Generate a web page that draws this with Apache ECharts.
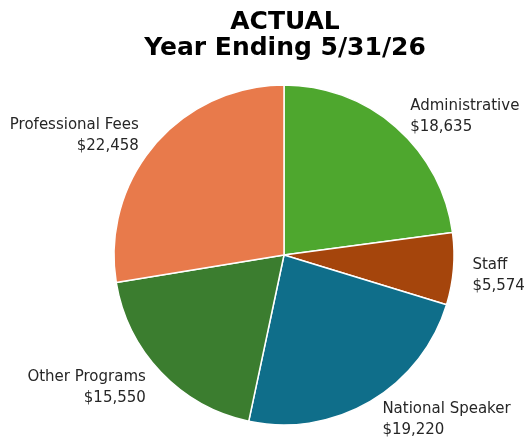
<!DOCTYPE html>
<html>
<head>
<meta charset="utf-8">
<script src="https://cdn.jsdelivr.net/npm/echarts@6/dist/echarts.min.js"></script>
<style>
  html, body { margin: 0; padding: 0; background: #fff; }
  #main { width: 525px; height: 439px; }
</style>
</head>
<body>
<div id="main"></div>
<script>
const chart = echarts.init(document.querySelector('#main'))

const CATEGORIES = ['Administrative', 'Staff', 'National Speaker', 'Other Programs', 'Professional Fees']
const VALUES = [18635, 5574, 19220, 15550, 22458]
const COLORS = ['#4ea72e', '#a5450c', '#0f6e8a', '#3b7d2f', '#e87a4b']

const CENTER = [284, 255]

function money (v) {
  return '$' + v.toLocaleString('en-US')
}

chart.setOption({
  animation: false,
  title: {
    text: 'ACTUAL\nYear Ending 5/31/26',
    left: 280,
    textAlign: 'center',
    top: 4,
    textStyle: {
      fontFamily: 'DejaVu Sans',
      fontWeight: 'bold',
      fontSize: 25,
      lineHeight: 26,
      color: '#000'
    }
  },
  series: [{
    type: 'pie',
    center: CENTER,
    radius: 170,
    startAngle: 90,
    clockwise: true,
    data: CATEGORIES.map((name, i) => ({
      name,
      value: VALUES[i],
      itemStyle: { color: COLORS[i] }
    })),
    itemStyle: { borderColor: '#fff', borderWidth: 1.5 },
    label: {
      position: 'outside',
      formatter: p => p.name + '\n' + money(p.value),
      fontFamily: 'DejaVu Sans',
      fontSize: 15,
      lineHeight: 21,
      color: '#262626',
      overflow: 'none',
      distanceToLabelLine: 3
    },
    labelLine: { show: false, length: 14, length2: 2 },
    // labels in the lower half sit a little lower in the original
    labelLayout: p => (p.labelRect.y > CENTER[1] - 10 ? { dy: 6 } : {})
  }]
})
</script>
</body>
</html>
